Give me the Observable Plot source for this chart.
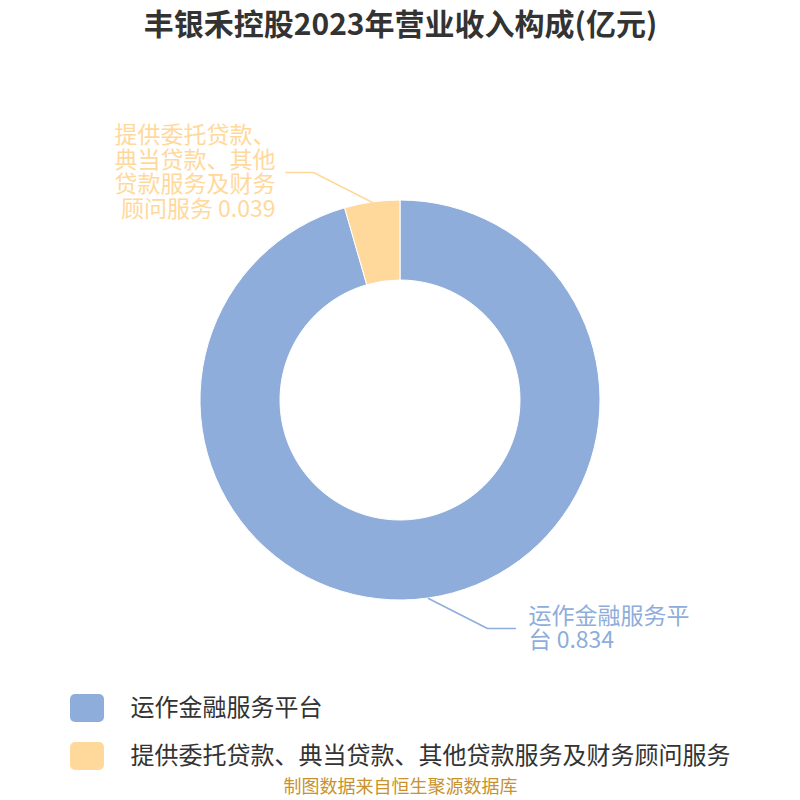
<!DOCTYPE html>
<html><head><meta charset="utf-8">
<script src="https://cdn.jsdelivr.net/npm/d3@7"></script>
<script src="https://cdn.jsdelivr.net/npm/@observablehq/plot@0.6"></script>
<style>body{margin:0;background:#fff;font-family:"Noto Sans CJK SC",sans-serif}</style>
</head><body><div id="chart"></div>
<script>
const title = "丰银禾控股2023年营业收入构成(亿元)";
const caption = "制图数据来自恒生聚源数据库";
const categories = ["运作金融服务平台", "提供委托贷款、典当贷款、其他贷款服务及财务顾问服务"];
const labelLines = [["运作金融服务平", "台 0.834"], ["提供委托贷款、", "典当贷款、其他", "贷款服务及财务", "顾问服务 0.039"]];
const values = [0.834, 0.039];
const colors = ["#8eaddb", "#ffd99b"];

const W = 800, H = 800, cx = 400, cy = 400, R = 200, r0 = 120, LH = 24.5;
const data = categories.map((name, i) => ({name, value: values[i], lines: labelLines[i]}));
const arcs = d3.pie().sort(null).value(d => d.value)(data);

// label geometry derived from arc mid-angles
const labels = arcs.map(a => {
  const m = (a.startAngle + a.endAngle) / 2;
  const sx = Math.sin(m), sy = -Math.cos(m);
  const p0 = [cx + R * sx, cy + R * sy];
  const dir = sx >= 0 ? 1 : -1;
  const p1 = [p0[0] + dir * 59, p0[1] + (sy >= 0 ? 1 : -1) * 30];
  const p2 = [p1[0] + dir * 28, p1[1]];
  return {name: a.data.name, lines: a.data.lines, pts: [p0, p1, p2], dir};
});
const leader = labels.flatMap(l => l.pts.map(p => ({name: l.name, x: p[0], y: p[1]})));
const labelRows = labels.flatMap(l => l.lines.map((t, k) => ({
  name: l.name, text: t, dir: l.dir,
  x: l.pts[2][0] + (l.dir > 0 ? 13 : -10),
  y: l.pts[2][1] + (k - (l.lines.length - 1) / 2) * LH
})));
const legend = categories.map((name, i) => ({name, i}));

const donut = (index, scales) => {
  const g = d3.create("svg:g").attr("transform", `translate(${scales.x(cx)},${scales.y(cy)})`);
  const arc = d3.arc().innerRadius(r0).outerRadius(R);
  g.selectAll("path").data(arcs).join("path")
    .attr("d", arc)
    .attr("fill", d => scales.color(d.data.name))
    .attr("stroke", "#fff").attr("stroke-width", 1);
  return g.node();
};

const plot = Plot.plot({
  width: W, height: H, margin: 0,
  x: {domain: [0, W], range: [0, W], axis: null},
  y: {domain: [0, H], range: [0, H], axis: null},
  color: {domain: categories, range: colors},
  style: {fontFamily: "'Noto Sans CJK SC', sans-serif", background: "#fff"},
  marks: [
    donut,
    Plot.line(leader, {x: "x", y: "y", z: "name", stroke: "name", strokeWidth: 1.5}),
    Plot.text(labelRows.filter(d => d.dir > 0), {x: "x", y: "y", text: "text", fill: "name", fontSize: 23, textAnchor: "start", lineAnchor: "middle"}),
    Plot.text(labelRows.filter(d => d.dir < 0), {x: "x", y: "y", text: "text", fill: "name", fontSize: 23, textAnchor: "end", lineAnchor: "middle"}),
    Plot.text([title], {x: 400, y: 25, text: d => d, fontSize: 30, fontWeight: "bold", fill: "#333", lineAnchor: "middle"}),
    Plot.rect(legend, {x1: 70, x2: 104, y1: d => 694 + d.i * 48, y2: d => 722 + d.i * 48, fill: "name", rx: 5}),
    Plot.text(legend, {x: 130, y: d => 708 + d.i * 48, text: "name", fill: "#333", fontSize: 24, textAnchor: "start", lineAnchor: "middle"}),
    Plot.text([caption], {x: 400, y: 787, text: d => d, fill: "#c8922d", fontSize: 18, lineAnchor: "middle"})
  ]
});
document.getElementById("chart").append(plot);
</script></body></html>
